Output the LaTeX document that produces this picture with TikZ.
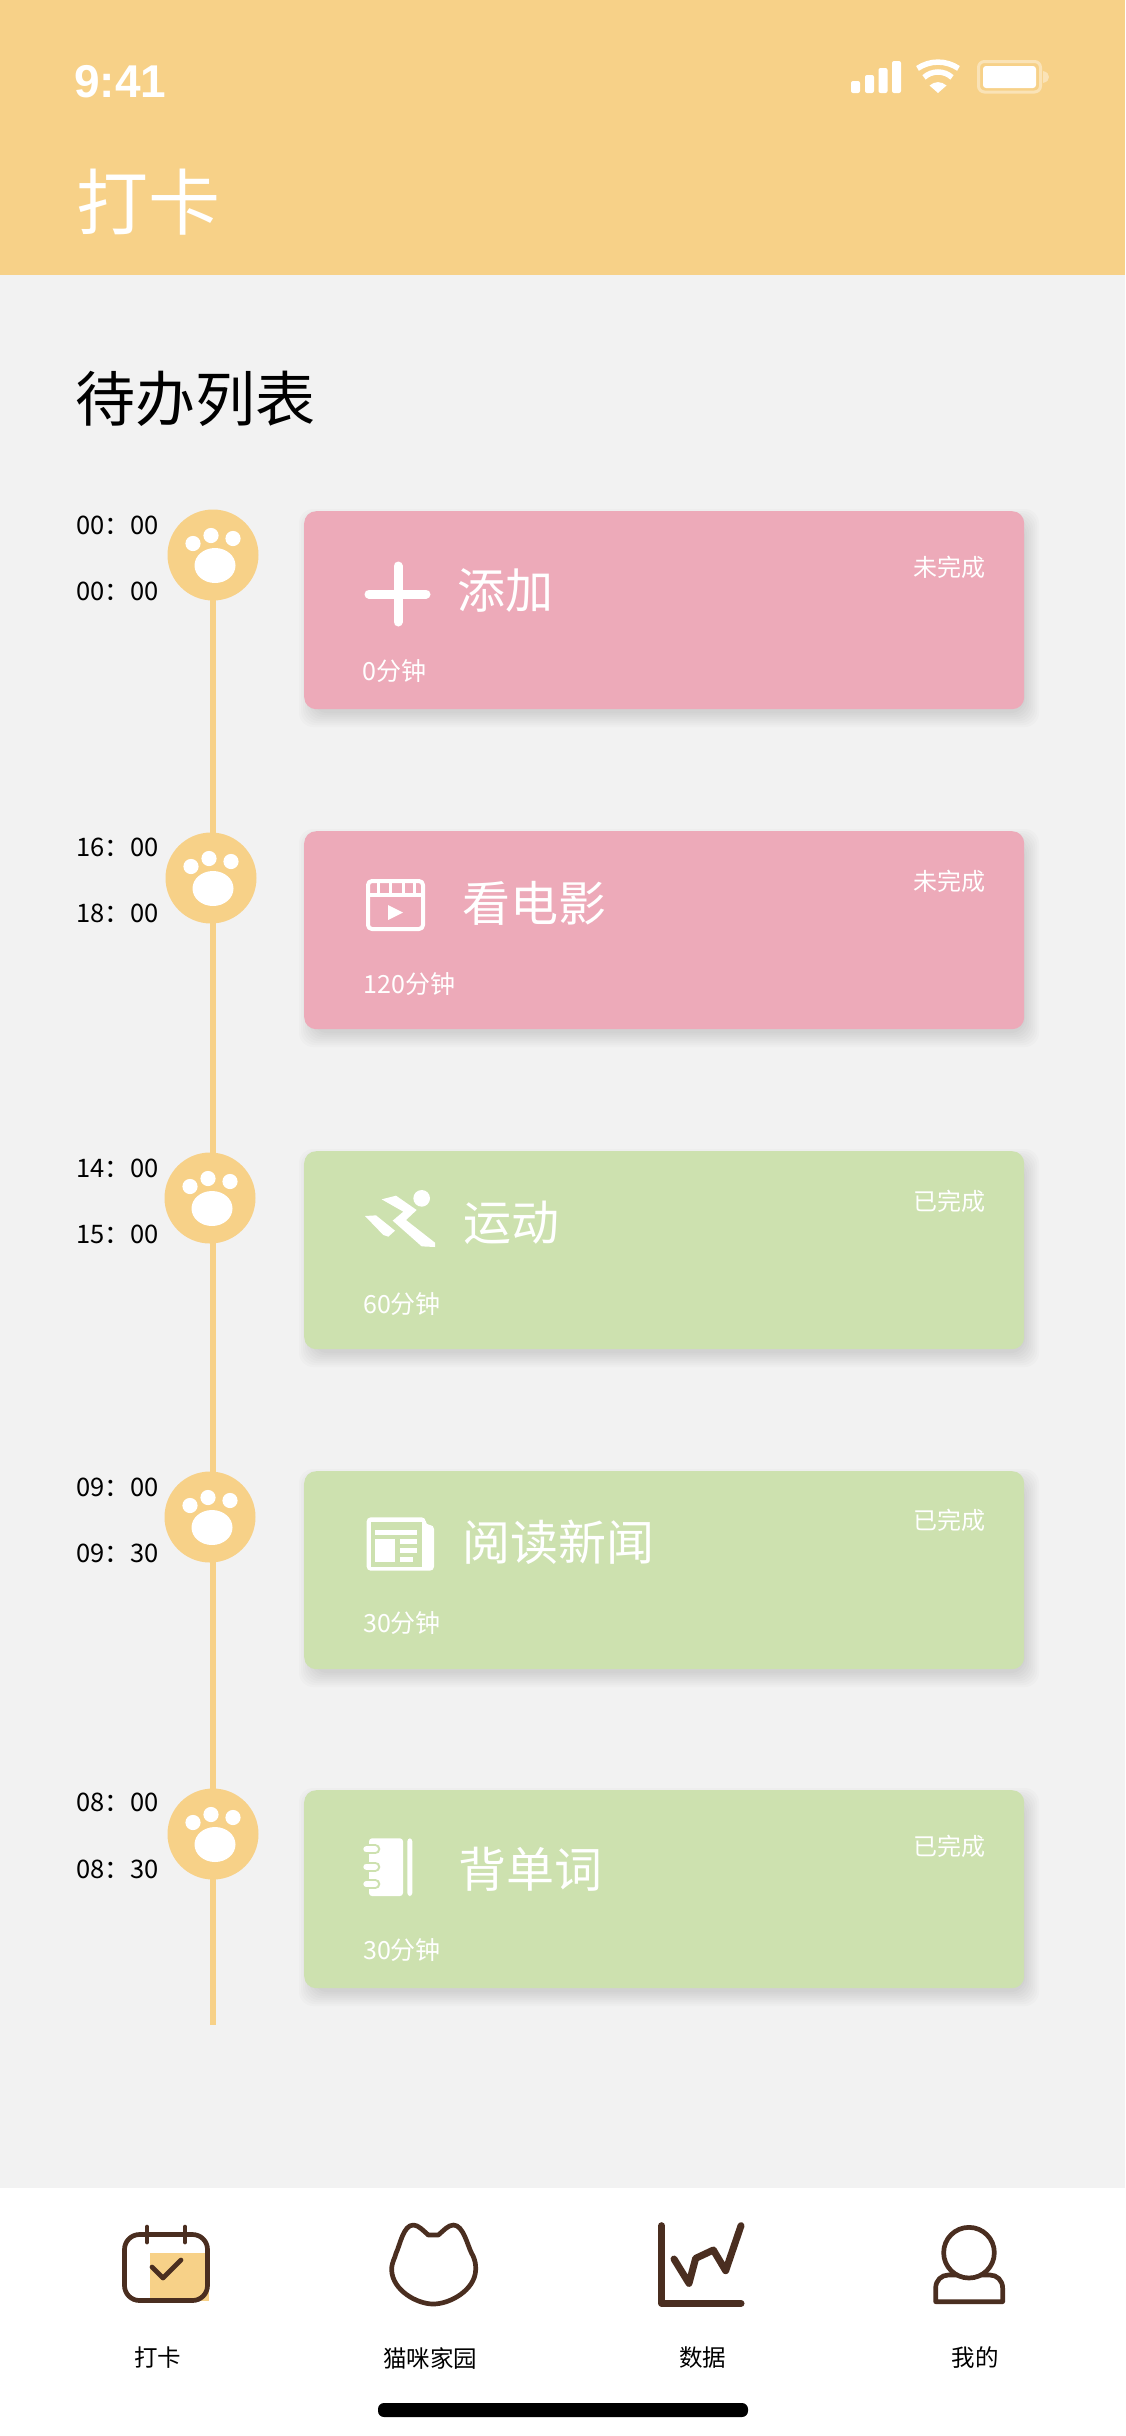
\documentclass[tikz,border=0pt]{standalone}
\usepackage{fontspec}
\setmainfont{Noto Sans CJK SC}
\newfontfamily\timefont{Liberation Sans}
\usetikzlibrary{positioning}

\definecolor{headyellow}{HTML}{F7D188}
\definecolor{pagegray}{HTML}{F2F2F2}
\definecolor{cardpink}{HTML}{EDAAB9}
\definecolor{cardgreen}{HTML}{CDE1AF}
\definecolor{iconbrown}{HTML}{4A2E20}

\tikzset{
  label/.style={inner sep=0pt, font=\fontsize{#1}{#1}\selectfont},
  cardtitle/.style={label=48, text=white},
  cardstate/.style={label=24, text=white, anchor=east},
  cardtime/.style={label=25, text=white, anchor=west},
  clocktext/.style={label=25.5, anchor=west},
  tabtext/.style={label=23.5},
  tabicon/.style={draw=iconbrown, line width=4.7pt, line cap=round, line join=round},
  whiteicon/.style={draw=white, line width=4pt, line join=round},
}

% one card: y of the top, colour
\newcommand{\taskcard}[3]{
  \foreach \k in {10,8,...,-4}
    \fill[black, opacity=0.014, rounded corners=14pt]
      (304+5-\k,#1+8-\k) rectangle (1024+5+\k,#1+198+8+\k);
  \node[fill=#2, rounded corners=12pt, minimum width=720pt, minimum height=198pt,
    inner sep=0pt, anchor=north west] (#3) at (304,#1) {};
}
% one paw on the time line
\newcommand{\pawmark}[3]{
  \node[circle, fill=headyellow, minimum size=91pt, inner sep=0pt] (#3) at (#1,#2) {};
  \fill[white] (#1+2,#2+10.5) ellipse (20.5 and 17.5);
  \fill[white] (#1-20,#2-11.5) circle (7.6);
  \fill[white] (#1-2,#2-19.5) circle (7.6);
  \fill[white] (#1+20,#2-16.5) circle (7.6);
}

\begin{document}
\begin{tikzpicture}[x=1pt, y=-1pt]
  \useasboundingbox (0,0) rectangle (1125,2436);
  \fill[pagegray] (0,0) rectangle (1125,2188);
  \fill[headyellow] (0,0) rectangle (1125,275);
  \fill[white] (0,2188) rectangle (1125,2436);

  % status bar
  \node[label=46, text=white, anchor=west] (clock) at (74,82) {\timefont\bfseries 9:41};
  \foreach \x/\t in {851/81,865/75,878.5/68,892/61}
    \fill[white, rounded corners=2pt] (\x,\t) rectangle (\x+9,93);
  \begin{scope}[shift={(938,93)}]
    \fill[white] (0,0) -- (-8.5,-7.5) .. controls (-3,-12) and (3,-12) .. (8.5,-7.5) -- cycle;
    \draw[white, line width=5.5pt] (-14,-15.6) .. controls (-6,-22.8) and (6,-22.8) .. (14,-15.6);
    \draw[white, line width=5.5pt] (-20.5,-24.6) .. controls (-8,-33) and (8,-33) .. (20.5,-24.6);
  \end{scope}
  \draw[white, opacity=0.4, line width=3pt, rounded corners=6pt] (978.5,61.5) rectangle (1040.5,92);
  \fill[white, opacity=0.4] (1043,71) .. controls (1047,72) and (1049,74) .. (1049,77)
    .. controls (1049,80) and (1047,82) .. (1043,83) -- cycle;
  \fill[white, rounded corners=3pt] (983,66) rectangle (1036,88);

  \node[label=72, text=white, anchor=west] (title) at (76,202) {打卡};
  \node[label=60, anchor=west] (listtitle) at (75.5,399) {待办列表};

  % time line
  \coordinate (lineend) at (213,2025);
  \fill[headyellow] (210,555) rectangle (216,2025);

  \pawmark{213}{555}{pawa}
  \pawmark{211}{878}{pawb}
  \pawmark{210}{1198}{pawc}
  \pawmark{210}{1517}{pawd}
  \pawmark{213}{1834}{pawe}

  \foreach \y/\ta in {525/00,847/16,1168/14,1487/09,1802/08}
    \node[clocktext] at (76,\y) {\ta：00};
  \node[clocktext] at (76,591) {00：00};
  \node[clocktext] at (76,913) {18：00};
  \node[clocktext] at (76,1234) {15：00};
  \node[clocktext] at (76,1553) {09：30};
  \node[clocktext] at (76,1869) {08：30};

  % cards
  \taskcard{511}{cardpink}{carda}
  \taskcard{831}{cardpink}{cardb}
  \taskcard{1151}{cardgreen}{cardc}
  \taskcard{1471}{cardgreen}{cardd}
  \taskcard{1790}{cardgreen}{carde}

  \node[cardtitle] (titlea) at (505,590) {添加};
  \node[cardtitle] (titleb) at (534,903) {看电影};
  \node[cardtitle] (titlec) at (511,1223) {运动};
  \node[cardtitle] (titled) at (558,1542) {阅读新闻};
  \node[cardtitle] (titlee) at (530,1869) {背单词};

  \node[cardstate] at (986,567) {未完成};
  \node[cardstate] at (986,881) {未完成};
  \node[cardstate] at (986,1201) {已完成};
  \node[cardstate] at (986,1520) {已完成};
  \node[cardstate] at (986,1846) {已完成};

  \node[cardtime] at (362.5,671) {0分钟};
  \node[cardtime] at (363.5,984) {120分钟};
  \node[cardtime] at (363,1304) {60分钟};
  \node[cardtime] at (363,1623) {30分钟};
  \node[cardtime] at (363,1950) {30分钟};

  % plus
  \draw[white, line width=9pt, line cap=round] (369,594) -- (426,594) (398,566) -- (398,622);

  % film
  \draw[whiteicon, rounded corners=4pt] (368,881) rectangle (423,929);
  \draw[whiteicon] (368,895) -- (423,895);
  \foreach \x in {378,390,403,414}
    \draw[white, line width=3pt] (\x,881) -- (\x,895);
  \fill[white, line join=round] (388,905) -- (403,912.5) -- (388,920) -- cycle;

  % runner
  \begin{scope}[shift={(320,1150)}, scale=1/3]
    \fill[white] (305,145) circle (25);
    \fill[white] (185,148) -- (228,137) -- (290,180) -- (258,210) -- (345,278)
      -- (345,291) -- (305,289) -- (218,212) -- (250,185) -- cycle;
    \fill[white] (135,198) -- (168,196) -- (225,242) -- (205,260) -- (190,255) -- cycle;
  \end{scope}

  % newspaper
  \begin{scope}[shift={(320,1470)}, scale=1/3]
    \fill[white, rounded corners=4pt] (140,142) -- (317,142) -- (317,165) -- (342,165)
      -- (342,302) -- (140,302) -- cycle;
    \fill[cardgreen] (152,155) rectangle (305,290);
    \fill[white] (165,180) rectangle (292,195);
    \fill[white] (165,207) rectangle (225,276);
    \fill[white] (240,207) rectangle (292,221);
    \fill[white] (240,235) rectangle (292,249);
    \fill[white] (240,262) rectangle (280,276);
  \end{scope}

  % notebook
  \begin{scope}[shift={(320,1790)}, scale=1/3]
    \fill[white, rounded corners=3pt] (147,145) rectangle (249,318);
    \fill[white, rounded corners=3pt] (262,145) rectangle (277,318);
    \foreach \y in {178,230,282} {
      \draw[cardgreen, line width=10pt, line cap=round] (136,\y) -- (166,\y);
      \draw[white, line width=6pt, line cap=round] (139,\y) -- (165,\y);
    }
  \end{scope}

  % tab bar
  \fill[headyellow] (150,2253) rectangle (209,2301);
  \begin{scope}
    \draw[tabicon, rounded corners=15pt, line cap=butt] (124.5,2234.5) rectangle (207.5,2300.5);
  \end{scope}
  \draw[tabicon] (147,2227) -- (147,2242) (185,2227) -- (185,2242);
  \draw[tabicon] (152,2267) -- (163,2278) -- (181,2260);

  \begin{scope}[shift={(60,2190)}, scale=1/3]
    \draw[tabicon] (1105,135) -- (1135,135) .. controls (1150,122) and (1165,105) .. (1180,105)
      .. controls (1210,105) and (1222,165) .. (1235,190)
      .. controls (1250,215) and (1247,240) .. (1247,240)
      .. controls (1245,300) and (1170,342) .. (1120,342)
      .. controls (1070,342) and (997,300) .. (995,240)
      .. controls (995,215) and (1005,205) .. (1008,190)
      .. controls (1020,165) and (1030,105) .. (1060,105)
      .. controls (1075,105) and (1090,122) .. (1105,135) -- cycle;
  \end{scope}

  \begin{scope}[shift={(600,2190)}, scale=1/3]
    \draw[tabicon, line width=7pt] (185,107) -- (185,340) -- (423,340);
    \draw[tabicon, line width=7pt] (222,207) -- (267,280) -- (287,205) -- (340,180) -- (377,242) -- (423,107);
    \draw[tabicon] (1007,335) -- (1007,295) .. controls (1007,270) and (1025,255) .. (1045,255)
      -- (1170,255) .. controls (1190,255) and (1208,270) .. (1208,295) -- (1208,335) -- cycle;
    \filldraw[tabicon, fill=white] (1107,188) circle (76);
  \end{scope}

  \node[tabtext] (tabcard) at (157.5,2358) {打卡};
  \node[tabtext] (tabcat) at (430,2358) {猫咪家园};
  \node[tabtext] (tabdata) at (702.5,2358) {数据};
  \node[tabtext] (tabme) at (975,2358) {我的};

  \fill[black, rounded corners=6pt] (378,2403) rectangle (748,2417);
\end{tikzpicture}
\end{document}
